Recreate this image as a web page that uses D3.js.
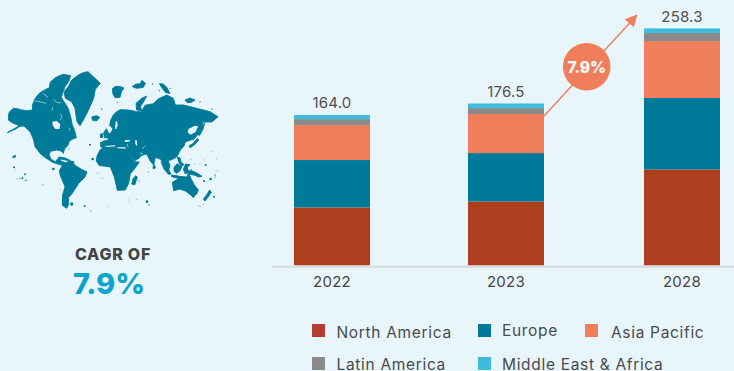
<!DOCTYPE html>
<html>
<head>
<meta charset="utf-8">
<script src="https://cdn.jsdelivr.net/npm/d3@7"></script>
<style>
html,body{margin:0;padding:0;background:#e8f6fc;overflow:hidden}
svg{display:block;font-family:Inter,"Open Sans",sans-serif}
</style>
</head>
<body>
<svg id="chart" width="734" height="371"></svg>
<script>
// Market size by region, USD billion
const years = ["2022", "2023", "2028"];
const totals = [164.0, 176.5, 258.3];
const regions = ["North America", "Europe", "Asia Pacific", "Latin America", "Middle East & Africa"];
const northAmerica = [63.2, 69.7, 104.6];
const europe = [51.7, 52.8, 77.9];
const asiaPacific = [38.1, 42.5, 62.1];
const latinAmerica = [6.5, 6.5, 8.7];
const middleEastAfrica = [4.5, 5.0, 5.0];
const regionColors = ["#ae3f1e", "#007a99", "#f17e5b", "#8a8a8a", "#3ebcdc"];
const legendColors = ["#b53c30", "#007a99", "#f17e5b", "#8a8a8a", "#3ebcdc"];
const cagrLabel = "CAGR OF";
const cagrValue = "7.9%";

// Simplified land outlines in the map's own 690x480 drawing space
const landRings = [
  // North America with the Arctic archipelago
  [[22,218],[34,211],[45,205],[57,197],[48,193],[38,189],[26,181],[25,168],[28,156],[40,145],[52,146],[62,149],[80,152],[98,150],[97,136],[105,116],[118,100],[130,92],[148,83],[151,66],[165,54],[178,47],[190,43],[212,47],[206,65],[196,78],[190,92],[184,112],[190,122],[198,134],[205,146],[212,170],[216,192],[224,212],[229,233],[216,238],[207,245],[204,256],[194,266],[190,280],[183,273],[170,270],[152,274],[147,284],[153,298],[166,305],[172,298],[178,292],[182,303],[196,308],[187,316],[176,313],[158,307],[136,293],[121,281],[111,268],[105,260],[101,240],[92,218],[83,208],[72,198],[60,199],[45,208]],
  // Greenland
  [[192,95],[205,80],[215,60],[235,45],[250,38],[264,35],[285,55],[301,70],[286,88],[281,115],[270,140],[258,165],[250,180],[240,197],[231,185],[225,145],[215,125],[196,115]],
  // South America
  [[178,332],[190,312],[203,305],[215,305],[225,316],[243,327],[261,336],[255,351],[236,370],[226,386],[215,402],[206,412],[205,435],[200,445],[187,436],[188,405],[195,380],[181,347]],
  // Africa
  [[289,303],[291,288],[300,270],[320,257],[345,264],[375,266],[386,272],[396,294],[406,306],[418,306],[405,325],[391,341],[386,370],[376,390],[352,391],[343,351],[331,321],[312,318],[298,317]],
  // Eurasia
  [[303,262],[301,248],[312,243],[325,240],[322,226],[335,216],[338,205],[329,196],[333,178],[340,165],[350,155],[361,149],[386,150],[410,155],[425,155],[435,136],[460,131],[476,116],[500,105],[520,115],[526,135],[550,135],[590,145],[630,155],[654,170],[636,186],[610,186],[600,206],[592,225],[582,238],[572,240],[556,246],[552,258],[541,270],[531,290],[518,298],[504,302],[510,316],[505,336],[497,322],[482,298],[466,292],[461,316],[449,300],[440,282],[425,286],[418,294],[405,302],[392,284],[381,268],[345,262],[325,262]],
  // Arctic Ocean islands
  [[410,150],[408,130],[425,115],[440,108],[431,125],[421,140],[426,152]],
  [[337,86],[347,79],[362,80],[372,84],[364,95],[360,112],[345,113],[339,102]],
  [[397,80],[408,72],[420,72],[426,61],[436,70],[430,82],[410,85]],
  [[478,71],[490,72],[500,82],[510,100],[497,98],[486,84]],
  [[555,120],[570,114],[585,120],[575,127],[562,128]],
  [[275,171],[290,167],[299,172],[290,183],[278,181]],
  // Britain and Ireland
  [[311,218],[319,206],[325,218],[328,231],[314,234]],
  [[301,222],[308,221],[309,232],[301,233]],
  // Cuba and Hispaniola
  [[176,291],[196,294],[212,302],[196,300],[178,296]],
  [[210,304],[222,305],[221,309],[212,309]],
  // Madagascar and Sri Lanka
  [[395,372],[400,354],[408,347],[412,352],[404,375]],
  [[459,319],[464,315],[466,324],[460,327]],
  // Japan
  [[590,223],[598,214],[607,195],[614,190],[609,207],[599,226]],
  [[567,258],[580,250],[592,235],[596,240],[584,254],[570,263]],
  // Maritime South East Asia
  [[483,305],[493,312],[505,328],[513,342],[505,343],[492,327]],
  [[515,345],[535,348],[555,352],[555,356],[532,354],[515,350]],
  [[522,322],[532,311],[546,320],[540,332],[530,340],[522,334]],
  [[550,328],[557,312],[570,314],[562,322],[566,338],[556,342]],
  [[532,292],[540,293],[543,305],[552,314],[545,318],[537,308]],
  [[565,332],[578,333],[592,340],[606,349],[596,351],[582,345],[568,343]],
  // Australia, Tasmania and New Zealand
  [[517,367],[532,358],[541,350],[560,351],[566,340],[574,358],[583,375],[595,390],[590,402],[580,411],[568,402],[558,394],[540,387],[521,392]],
  [[610,418],[620,404],[629,390],[634,397],[625,410],[615,423]],
  [[574,404],[583,405],[580,413]]
];
// Enclosed seas, lakes and channels, painted back in the page colour
const waterRings = [
  [[157,185],[170,183],[181,193],[178,208],[165,206],[158,195]],
  [[374,241],[388,239],[390,244],[380,246],[375,246]],
  [[406,240],[410,241],[412,254],[409,258],[406,250]],
  [[312,258],[345,256],[346,259],[322,261]],
  [[350,262],[376,262],[378,266],[354,265]],
  [[347,186],[351,182],[353,196],[348,208],[345,206]],
  [[566,206],[585,197],[595,199],[586,217],[571,224],[563,217]],
  [[420,276],[428,282],[424,283]]
];
const channels = [
  [[104,123],[122,126],[138,130]],
  [[128,100],[144,112]],
  [[160,118],[172,128],[183,128]],
  [[158,142],[156,152]],
  [[182,162],[186,172],[180,180]],
  [[208,204],[211,212]],
  [[381,252],[385,262]],
  [[436,258],[426,266]],
  [[528,308],[520,298]]
];
// Small outlying islands, [x, y, radius]
const islets = [
  [44,289,4],[40,292,3],[42,322,3],[75,343,3],[67,355,3],[60,355,2],[78,361,2.5],[160,327,4],[215,432,5],[254,438,3],
  [441,425,4],[447,435,2],[278,297,4],[270,254,3],[305,147,2],[617,315,3],[632,357,4],[612,363,3],[645,345,2],
  [642,410,3],[574,330,2],[352,127,2],[458,72,2],[478,92,2],[510,85,2],[600,125,2],[636,147,2]
];
const faintIslets = [
  [52,358,2.5],[46,330,2],[128,375,3],[125,293,2],[207,267,3],[293,340,2.5],[308,354,2],[272,452,2.5],[325,440,2],
  [385,420,2.5],[410,418,2.5],[418,363,3],[445,337,3],[572,298,2.5],[585,312,2.5],[600,312,2.5],[611,300,2],
  [650,296,2],[638,275,2],[650,333,2.5],[646,352,3],[600,438,3],[612,432,2.5],[182,388,2]
];

const svg = d3.select("#chart");
svg.append("rect").attr("width", 734).attr("height", 371).attr("fill", "#e8f6fc");

// World map silhouette
const mapX = d3.scaleLinear().domain([0, 690]).range([0, 230]);
const mapY = d3.scaleLinear().domain([0, 480]).range([60, 220]);
const ringPath = d3.line().x(d => mapX(d[0])).y(d => mapY(d[1])).curve(d3.curveLinearClosed);
const openPath = d3.line().x(d => mapX(d[0])).y(d => mapY(d[1]));
const map = svg.append("g").attr("class", "world-map");
map.selectAll("path.land").data(landRings).join("path").attr("class", "land")
  .attr("d", ringPath).attr("fill", "#007a99").attr("stroke", "#007a99")
  .attr("stroke-width", 0.9).attr("stroke-linejoin", "round");
map.selectAll("path.water").data(waterRings).join("path").attr("class", "water")
  .attr("d", ringPath).attr("fill", "#e8f6fc");
map.selectAll("path.channel").data(channels).join("path").attr("class", "channel")
  .attr("d", openPath).attr("fill", "none").attr("stroke", "#e8f6fc").attr("stroke-width", 0.6);
map.selectAll("circle.islet").data(islets).join("circle").attr("class", "islet")
  .attr("cx", d => mapX(d[0])).attr("cy", d => mapY(d[1])).attr("r", d => d[2] / 3)
  .attr("fill", "#007a99");
map.selectAll("circle.faint").data(faintIslets).join("circle").attr("class", "faint")
  .attr("cx", d => mapX(d[0])).attr("cy", d => mapY(d[1])).attr("r", d => d[2] / 3)
  .attr("fill", "#007a99").attr("opacity", 0.35);

// CAGR call-out on the left
svg.append("text").attr("x", 113).attr("y", 260).attr("text-anchor", "middle")
  .attr("font-size", 16).attr("font-weight", 800).attr("letter-spacing", 0.75).attr("fill", "#444444").text(cagrLabel);
svg.append("text").attr("x", 109).attr("y", 294).attr("text-anchor", "middle")
  .attr("font-size", 29).attr("font-weight", 800).attr("fill", "#0ea5cc").text(cagrValue);

// Stacked columns
const x = d3.scaleOrdinal().domain(years).range([332, 506, 682]);
const y = d3.scaleLinear().domain([0, 258.3]).range([265.5, 28.4]);
const barWidth = 76;
const table = years.map((year, i) => ({
  year,
  "North America": northAmerica[i],
  "Europe": europe[i],
  "Asia Pacific": asiaPacific[i],
  "Latin America": latinAmerica[i],
  "Middle East & Africa": middleEastAfrica[i]
}));
const stacked = d3.stack().keys(regions)(table);
const color = d3.scaleOrdinal().domain(regions).range(regionColors);

svg.append("g").selectAll("g").data(stacked).join("g")
  .attr("fill", d => color(d.key))
  .selectAll("rect").data(d => d).join("rect")
  .attr("x", d => x(d.data.year) - barWidth / 2)
  .attr("width", barWidth)
  .attr("y", d => y(d[1]))
  .attr("height", d => y(d[0]) - y(d[1]));

// Baseline and year labels
svg.append("line").attr("x1", 272).attr("x2", 734).attr("y1", 266.7).attr("y2", 266.7)
  .attr("stroke", "#dcdfe2").attr("stroke-width", 2.6);
svg.append("g").selectAll("text").data(years).join("text")
  .attr("x", d => x(d)).attr("y", 286.5).attr("text-anchor", "middle")
  .attr("font-size", 15).attr("letter-spacing", 0.3).attr("fill", "#444444").text(d => d);

// Totals above each column
svg.append("g").selectAll("text").data(totals).join("text")
  .attr("x", (d, i) => x(years[i])).attr("y", d => y(d) - 6.5).attr("text-anchor", "middle")
  .attr("font-size", 15).attr("letter-spacing", 0.2).attr("fill", "#4f4f4f").text(d => d.toFixed(1));

// Growth arrow with rate badge
const defs = svg.append("defs");
defs.append("marker").attr("id", "arrow-head").attr("viewBox", "0 0 10 10")
  .attr("refX", 9.5).attr("refY", 5).attr("markerUnits", "userSpaceOnUse")
  .attr("markerWidth", 12).attr("markerHeight", 12).attr("orient", "auto")
  .append("path").attr("d", "M0,0L10,5L0,10Z").attr("fill", "#f17e5b");
svg.append("line").attr("x1", 544).attr("y1", 116).attr("x2", 637).attr("y2", 15)
  .attr("stroke", "#f17e5b").attr("stroke-width", 1.4).attr("marker-end", "url(#arrow-head)");
svg.append("circle").attr("cx", 586.7).attr("cy", 66.7).attr("r", 23.8).attr("fill", "#f17e5b");
svg.append("text").attr("x", 586.7).attr("y", 72.5).attr("text-anchor", "middle")
  .attr("font-size", 15.5).attr("font-weight", 800).attr("fill", "#ffffff").text(cagrValue);

// Legend
const legendX = [312, 478, 585, 312, 478];
const legendY = [324, 324, 324, 357, 357];
const legendLabelX = [336.5, 502, 611, 336.5, 502];
const legendBase = [338, 336, 338, 369.5, 369.5];
const legend = svg.append("g").selectAll("g").data(regions).join("g");
legend.append("rect").attr("x", (d, i) => legendX[i]).attr("y", (d, i) => legendY[i])
  .attr("width", 13).attr("height", 13).attr("fill", (d, i) => legendColors[i]);
legend.append("text").attr("x", (d, i) => legendLabelX[i]).attr("y", (d, i) => legendBase[i])
  .attr("font-size", 15.5).attr("letter-spacing", 0.68).attr("fill", "#4a4a4a").text(d => d);
</script>
</body>
</html>
